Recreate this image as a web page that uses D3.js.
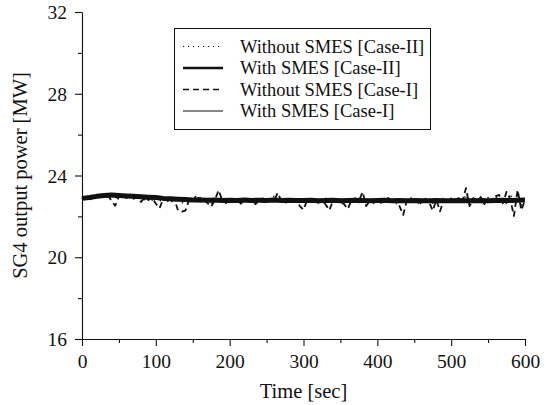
<!DOCTYPE html>
<html>
<head>
<meta charset="utf-8">
<script src="https://cdn.jsdelivr.net/npm/d3@7/dist/d3.min.js"></script>
<style>
  html, body { margin: 0; padding: 0; background: #fff; }
  svg { display: block; font-family: "Liberation Serif", "DejaVu Serif", serif; }
</style>
</head>
<body>
<div id="chart"></div>
<script>
// SG4 output power vs time, four runs (with / without SMES, case I / II).

// --- data -----------------------------------------------------------------

const xTicks = [0, 100, 200, 300, 400, 500, 600];
const yTicks = [16, 20, 24, 28, 32];

// "Without" runs sampled every 5 s, "With" runs every 10 s.
const tWithout = d3.range(0, 601, 5);
const tWith = d3.range(0, 601, 10);

const withoutCaseII = [
    22.90, 22.82, 22.96, 22.88, 23.04, 22.94, 23.08, 22.96, 23.02, 22.88,
    23.06, 22.92, 23.00, 22.86, 22.98, 22.84, 22.94, 22.82, 22.96, 22.80,
    22.90, 22.74, 22.88, 22.70, 22.86, 22.72, 22.84, 22.62, 22.82, 22.70,
    22.86, 22.68, 22.92, 22.74, 22.84, 22.66, 22.88, 22.72, 22.96, 22.70,
    22.84, 22.68, 22.86, 22.74, 22.90, 22.66, 22.82, 22.72, 22.88, 22.64,
    22.84, 22.70, 22.98, 22.72, 22.86, 22.66, 22.82, 22.74, 22.88, 22.60,
    22.84, 22.72, 22.86, 22.68, 22.82, 22.62, 22.88, 22.74, 22.84, 22.66,
    22.86, 22.70, 22.82, 22.74, 22.94, 22.68, 22.84, 22.72, 22.88, 22.64,
    22.86, 22.70, 22.84, 22.66, 22.90, 22.60, 22.82, 22.74, 22.86, 22.68,
    22.84, 22.62, 22.88, 22.72, 22.82, 22.66, 22.86, 22.70, 22.92, 22.64,
    22.88, 22.70, 22.84, 22.68, 23.04, 22.66, 22.90, 22.72, 22.86, 22.62,
    22.92, 22.70, 23.00, 22.66, 22.94, 22.58, 23.10, 22.68, 22.90, 22.56,
    22.84,
];

const withCaseII = [
    22.88, 22.92, 22.98, 23.02, 23.04, 23.02, 23.00, 22.98, 22.96, 22.94,
    22.92, 22.88, 22.86, 22.84, 22.82, 22.80, 22.80, 22.79, 22.80, 22.78,
    22.79, 22.78, 22.80, 22.78, 22.79, 22.78, 22.80, 22.78, 22.79, 22.78,
    22.78, 22.79, 22.77, 22.78, 22.79, 22.77, 22.78, 22.79, 22.78, 22.77,
    22.78, 22.79, 22.77, 22.78, 22.77, 22.78, 22.76, 22.77, 22.78, 22.76,
    22.77, 22.78, 22.76, 22.77, 22.78, 22.77, 22.78, 22.79, 22.78, 22.79,
    22.80,
];

const withoutCaseI = [
    22.85, 22.95, 22.80, 22.92, 22.98, 23.05, 22.95, 23.06, 22.75, 22.52,
    22.98, 23.04, 22.90, 23.00, 22.86, 22.97, 22.70, 22.93, 22.80, 22.92,
    22.62, 22.40, 22.85, 22.90, 22.68, 22.85, 22.30, 22.23, 22.28, 22.80,
    22.70, 23.05, 22.72, 22.82, 22.65, 22.48, 22.80, 23.28, 22.78, 22.65,
    22.82, 22.70, 22.86, 22.62, 22.80, 22.72, 22.84, 22.60, 22.80, 22.88,
    22.68, 22.84, 22.74, 23.15, 22.76, 22.64, 22.82, 22.72, 22.85, 22.50,
    22.32, 22.80, 22.70, 22.84, 22.66, 22.80, 22.58, 22.30, 22.78, 22.86,
    22.70, 22.60, 22.36, 22.80, 22.88, 22.74, 23.20, 22.50, 22.80, 22.70,
    22.84, 22.66, 22.80, 22.90, 22.68, 22.84, 22.50, 22.07, 22.78, 22.92,
    22.70, 22.84, 22.60, 22.86, 22.72, 22.28, 22.80, 22.25, 22.82, 22.70,
    22.88, 22.64, 22.90, 22.70, 23.38, 22.50, 22.90, 22.70, 22.95, 22.60,
    22.88, 22.72, 22.98, 23.05, 22.64, 23.20, 22.85, 22.02, 23.30, 22.30,
    22.80,
];

const withCaseI = [
    22.84, 22.96, 22.94, 23.04, 22.98, 23.06, 22.96, 23.00, 22.92, 22.96,
    22.86, 22.90, 22.82, 22.86, 22.78, 22.84, 22.76, 22.82, 22.76, 22.82,
    22.74, 22.82, 22.76, 22.84, 22.74, 22.82, 22.76, 22.82, 22.74, 22.84,
    22.74, 22.82, 22.74, 22.84, 22.76, 22.80, 22.72, 22.82, 22.76, 22.80,
    22.74, 22.84, 22.72, 22.82, 22.74, 22.80, 22.72, 22.82, 22.74, 22.80,
    22.72, 22.82, 22.74, 22.80, 22.72, 22.82, 22.76, 22.84, 22.74, 22.82,
    22.78,
];

const seriesNames = [
    "Without SMES [Case-II]",
    "With SMES [Case-II]",
    "Without SMES [Case-I]",
    "With SMES [Case-I]",
];

// --- geometry -------------------------------------------------------------

const WIDTH = 546;
const HEIGHT = 405;
const M = { top: 12, right: 21, bottom: 66, left: 82 };
const INK = "#111";

// Line styles, in legend order. "plot" is the width used in the plot area,
// where the printed trace reads as a dense band rather than a thin stroke.
const STYLE = [
    { width: 1.2, plot: 1.6, dash: "1.2,3.8" },
    { width: 2.6, plot: 5.0, dash: null },
    { width: 1.4, plot: 1.8, dash: "6,4" },
    { width: 1.0, plot: 1.4, dash: null },
];

const svg = d3.select("#chart")
    .append("svg")
    .attr("width", WIDTH)
    .attr("height", HEIGHT);

const x = d3.scaleLinear().domain([0, 600]).range([M.left, WIDTH - M.right]);
const y = d3.scaleLinear().domain([16, 32]).range([HEIGHT - M.bottom, M.top]);

// --- series ---------------------------------------------------------------

const line = d3.line()
    .x((d) => x(d[0]))
    .y((d) => y(d[1]));

const drawOrder = [
    { t: tWithout, v: withoutCaseI, s: STYLE[2] },
    { t: tWithout, v: withoutCaseII, s: STYLE[0] },
    { t: tWith, v: withCaseI, s: STYLE[3] },
    { t: tWith, v: withCaseII, s: STYLE[1] },
];

svg.append("g")
    .attr("class", "series")
    .selectAll("path")
    .data(drawOrder)
    .enter()
    .append("path")
    .attr("d", (d) => line(d.t.map((t, i) => [t, d.v[i]])))
    .attr("fill", "none")
    .attr("stroke", INK)
    .attr("stroke-width", (d) => d.s.plot)
    .attr("stroke-dasharray", (d) => d.s.dash)
    .attr("stroke-linejoin", "round");

// --- axes -----------------------------------------------------------------

svg.append("g")
    .attr("transform", `translate(0,${y(16)})`)
    .call(d3.axisBottom(x).tickValues(d3.range(50, 600, 100)).tickSize(4).tickFormat(""))
    .call((g) => g.select(".domain").remove());

svg.append("g")
    .attr("transform", `translate(0,${y(16)})`)
    .call(d3.axisBottom(x).tickValues(xTicks).tickSize(7).tickSizeOuter(0).tickPadding(8))
    .call((g) => g.selectAll("text").attr("font-size", "19.5px"));

svg.append("g")
    .attr("transform", `translate(${x(0)},0)`)
    .call(d3.axisLeft(y).tickValues(d3.range(18, 32, 4)).tickSize(4).tickFormat(""))
    .call((g) => g.select(".domain").remove());

svg.append("g")
    .attr("transform", `translate(${x(0)},0)`)
    .call(d3.axisLeft(y).tickValues(yTicks).tickSize(7).tickSizeOuter(0).tickPadding(8))
    .call((g) => g.selectAll("text").attr("font-size", "19.5px").attr("dy", "0.34em"));

svg.selectAll(".tick line, .domain")
    .attr("stroke", INK)
    .attr("stroke-width", 1.1);
svg.selectAll(".tick text")
    .attr("fill", INK)
    .attr("font-family", "Liberation Serif, DejaVu Serif, serif");

// Axis titles.
svg.append("text")
    .attr("x", (x(0) + x(600)) / 2)
    .attr("y", 398)
    .attr("text-anchor", "middle")
    .attr("font-size", "20.5px")
    .attr("fill", INK)
    .text("Time [sec]");

svg.append("text")
    .attr("transform", `translate(27,${(y(16) + y(32)) / 2}) rotate(-90)`)
    .attr("text-anchor", "middle")
    .attr("font-size", "20.5px")
    .attr("fill", INK)
    .text("SG4 output power [MW]");

// --- legend ---------------------------------------------------------------

const legend = svg.append("g").attr("class", "legend");

legend.append("rect")
    .attr("x", 174.5)
    .attr("y", 28.5)
    .attr("width", 256)
    .attr("height", 101)
    .attr("fill", "#fff")
    .attr("stroke", INK)
    .attr("stroke-width", 1);

const rows = legend.selectAll("g.row")
    .data(seriesNames)
    .enter()
    .append("g")
    .attr("class", "row")
    .attr("transform", (d, i) => `translate(0,${46.5 + i * 21.5})`);

rows.append("line")
    .attr("x1", 183)
    .attr("x2", 223)
    .attr("stroke", INK)
    .attr("stroke-width", (d, i) => STYLE[i].width)
    .attr("stroke-dasharray", (d, i) => STYLE[i].dash);

rows.append("text")
    .attr("x", 240)
    .attr("dy", "0.35em")
    .attr("font-size", "18.5px")
    .attr("fill", INK)
    .text((d) => d);
</script>
</body>
</html>
